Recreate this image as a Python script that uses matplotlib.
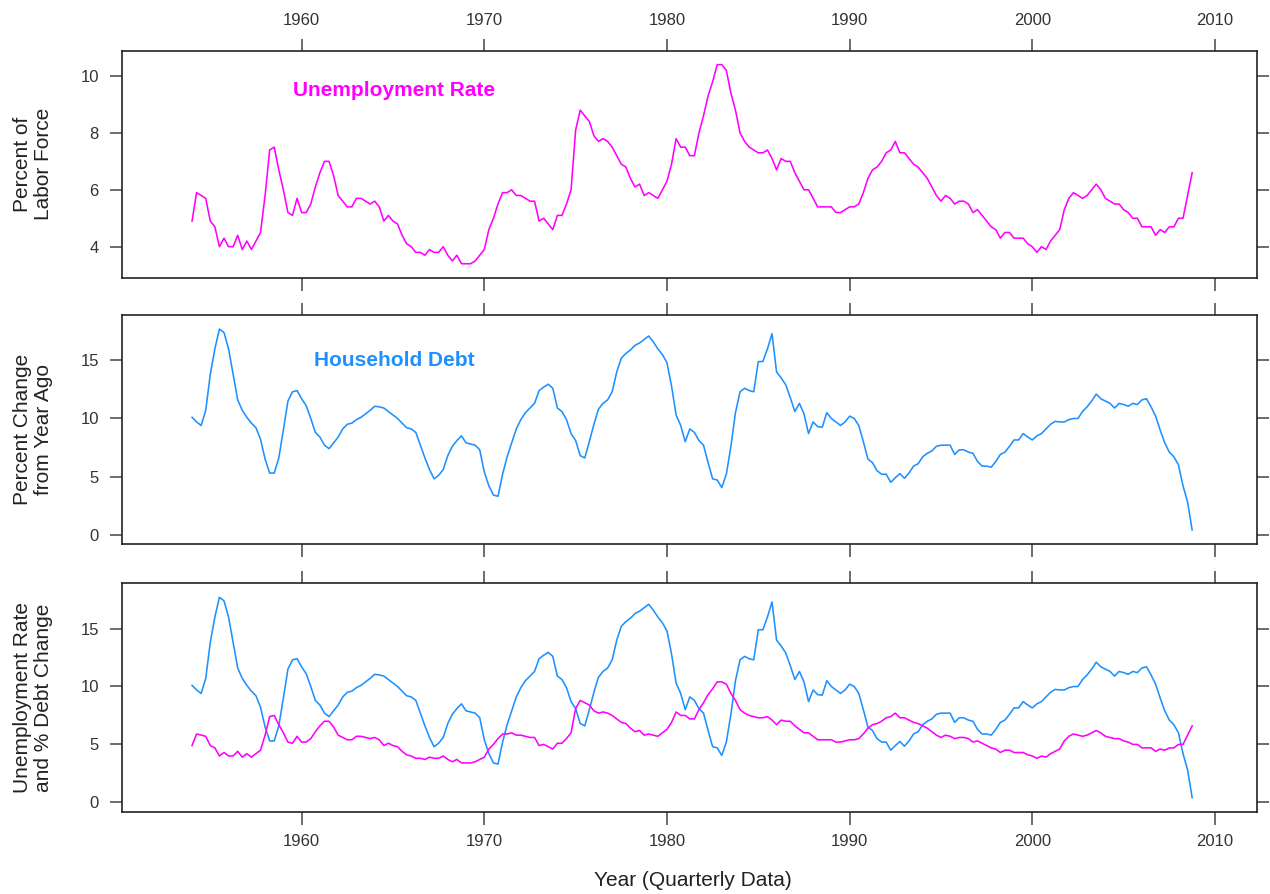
import numpy as np
import matplotlib
matplotlib.use('Agg')
from matplotlib import pyplot as plt

plt.rcParams['font.family'] = ['Liberation Sans', 'DejaVu Sans']

# quarterly data, 1954 Q1 .. 2008 Q4
start_year = 1954
n_quarters = 220

unemp = [
    4.9, 5.9, 5.8, 5.7,  4.9, 4.7, 4.0, 4.3,  4.0, 4.0, 4.4, 3.9,  4.2, 3.9, 4.2, 4.5,
    5.8, 7.4, 7.5, 6.7,  6.0, 5.2, 5.1, 5.7,  5.2, 5.2, 5.5, 6.1,  6.6, 7.0, 7.0, 6.5,
    5.8, 5.6, 5.4, 5.4,  5.7, 5.7, 5.6, 5.5,  5.6, 5.4, 4.9, 5.1,  4.9, 4.8, 4.4, 4.1,
    4.0, 3.8, 3.8, 3.7,  3.9, 3.8, 3.8, 4.0,  3.7, 3.5, 3.7, 3.4,  3.4, 3.4, 3.5, 3.7,
    3.9, 4.6, 5.0, 5.5,  5.9, 5.9, 6.0, 5.8,  5.8, 5.7, 5.6, 5.6,  4.9, 5.0, 4.8, 4.6,
    5.1, 5.1, 5.5, 6.0,  8.1, 8.8, 8.6, 8.4,  7.9, 7.7, 7.8, 7.7,  7.5, 7.2, 6.9, 6.8,
    6.4, 6.1, 6.2, 5.8,  5.9, 5.8, 5.7, 6.0,  6.3, 6.9, 7.8, 7.5,  7.5, 7.2, 7.2, 8.0,
    8.6, 9.3, 9.8, 10.4, 10.4, 10.2, 9.4, 8.8, 8.0, 7.7, 7.5, 7.4, 7.3, 7.3, 7.4, 7.1,
    6.7, 7.1, 7.0, 7.0,  6.6, 6.3, 6.0, 6.0,  5.7, 5.4, 5.4, 5.4,  5.4, 5.2, 5.2, 5.3,
    5.4, 5.4, 5.5, 5.9,  6.4, 6.7, 6.8, 7.0,  7.3, 7.4, 7.7, 7.3,  7.3, 7.1, 6.9, 6.8,
    6.6, 6.4, 6.1, 5.8,  5.6, 5.8, 5.7, 5.5,  5.6, 5.6, 5.5, 5.2,  5.3, 5.1, 4.9, 4.7,
    4.6, 4.3, 4.5, 4.5,  4.3, 4.3, 4.3, 4.1,  4.0, 3.8, 4.0, 3.9,  4.2, 4.4, 4.6, 5.3,
    5.7, 5.9, 5.8, 5.7,  5.8, 6.0, 6.2, 6.0,  5.7, 5.6, 5.5, 5.5,  5.3, 5.2, 5.0, 5.0,
    4.7, 4.7, 4.7, 4.4,  4.6, 4.5, 4.7, 4.7,  5.0, 5.0, 5.8, 6.6,
]

debt = [
    10.1, 9.7, 9.4, 10.7, 13.8, 16.0, 17.7, 17.4, 16.0, 13.8, 11.6, 10.7,
    10.1, 9.6, 9.2, 8.2, 6.5, 5.3, 5.3, 6.6, 9.0, 11.5, 12.3, 12.4,
    11.7, 11.1, 10.0, 8.8, 8.4, 7.7, 7.4, 7.9, 8.4, 9.1, 9.5, 9.6,
    9.9, 10.1, 10.4, 10.7, 11.05, 11.0, 10.9, 10.6, 10.3, 10.0, 9.6, 9.2,
    9.1, 8.8, 7.7, 6.6, 5.6, 4.8, 5.1, 5.6, 6.8, 7.6, 8.1, 8.5,
    7.9, 7.8, 7.7, 7.3, 5.4, 4.2, 3.4, 3.3, 5.2, 6.7, 7.9, 9.1,
    9.9, 10.5, 10.9, 11.3, 12.4, 12.7, 12.95, 12.6, 10.9, 10.6, 9.9, 8.7,
    8.1, 6.8, 6.6, 8.0, 9.5, 10.8, 11.3, 11.6, 12.3, 14.0, 15.2, 15.6,
    15.9, 16.3, 16.5, 16.8, 17.1, 16.6, 16.0, 15.5, 14.8, 12.8, 10.3, 9.4,
    8.0, 9.1, 8.8, 8.1, 7.7, 6.2, 4.8, 4.7, 4.05, 5.2, 7.6, 10.5,
    12.3, 12.6, 12.4, 12.3, 14.9, 14.9, 16.0, 17.3, 14.0, 13.5, 12.9, 11.8,
    10.6, 11.3, 10.4, 8.7, 9.7, 9.3, 9.25, 10.5, 10.0, 9.7, 9.4, 9.7,
    10.2, 10.0, 9.4, 8.0, 6.5, 6.2, 5.5, 5.2, 5.2, 4.5, 4.9, 5.25,
    4.85, 5.3, 5.9, 6.1, 6.7, 7.0, 7.2, 7.6, 7.7, 7.7, 7.7, 6.9,
    7.3, 7.3, 7.1, 7.0, 6.3, 5.9, 5.9, 5.8, 6.3, 6.9, 7.1, 7.6,
    8.15, 8.15, 8.7, 8.4, 8.15, 8.5, 8.7, 9.1, 9.5, 9.75, 9.7, 9.7,
    9.9, 10.0, 10.0, 10.6, 11.0, 11.5, 12.1, 11.7, 11.5, 11.3, 10.9, 11.3,
    11.2, 11.05, 11.3, 11.2, 11.6, 11.7, 11.0, 10.2, 9.0, 7.9, 7.1, 6.7,
    6.0, 4.2, 2.8, 0.4,
]

year_ticks = [1960, 1970, 1980, 1990, 2000, 2010]
unemp_ticks = [4, 6, 8, 10]
debt_ticks = [0, 5, 10, 15]

t = start_year + np.arange(n_quarters) / 4.0
unemp = np.array(unemp)
debt = np.array(debt)

magenta = '#FF00FF'
blue = '#1E90FF'
W_PX, H_PX = 1270, 894
LW = 1.15

fig = plt.figure(figsize=(W_PX / 100, H_PX / 100), dpi=100)
fig.patch.set_facecolor('white')

x0, x1 = 121.7, 1257.0


def panel(y0, y1):
    return fig.add_axes([x0 / W_PX, 1 - y1 / H_PX, (x1 - x0) / W_PX, (y1 - y0) / H_PX])


def padded(values):
    lo, hi = min(np.min(v) for v in values), max(np.max(v) for v in values)
    r = hi - lo
    return lo - 0.07 * r, hi + 0.07 * r


def style(ax, yticks, top_labels=False, bottom_labels=False):
    ax.set_xlim(1950.15, 2012.3)
    ax.set_xticks(year_ticks)
    ax.set_yticks(yticks)
    for s in ax.spines.values():
        s.set_color('#222222')
        s.set_linewidth(1.2)
    ax.tick_params(axis='x', direction='out', length=9, width=1.1, color='#444444',
                   top=True, bottom=True, labeltop=top_labels, labelbottom=bottom_labels,
                   labelsize=12, labelcolor='#333333', pad=7)
    ax.tick_params(axis='y', direction='out', length=8.5, width=1.1, color='#444444',
                   left=True, right=True, labelleft=True, labelright=False,
                   labelsize=12, labelcolor='#333333', pad=8)


# top panel: unemployment
ax1 = panel(50.7, 277.7)
ax1.plot(t, unemp, color=magenta, lw=LW)
ax1.set_ylim(*padded([unemp]))
style(ax1, unemp_ticks, top_labels=True)
ax1.text(1965.05, 9.5, 'Unemployment Rate', color=magenta, fontsize=15,
         fontweight='bold', ha='center', va='center')

# middle panel: household debt
ax2 = panel(315.0, 544.0)
ax2.plot(t, debt, color=blue, lw=LW)
ax2.set_ylim(*padded([debt]))
style(ax2, debt_ticks)
ax2.text(1965.05, 15.0, 'Household Debt', color=blue, fontsize=15,
         fontweight='bold', ha='center', va='center')

# bottom panel: both
ax3 = panel(583.3, 811.7)
ax3.plot(t, debt, color=blue, lw=LW)
ax3.plot(t, unemp, color=magenta, lw=LW)
ax3.set_ylim(*padded([debt, unemp]))
style(ax3, debt_ticks, bottom_labels=True)

ylabels = [('Percent of\nLabor Force', 50.7, 277.7),
           ('Percent Change\nfrom Year Ago', 315.0, 544.0),
           ('Unemployment Rate\nand % Debt Change', 583.3, 811.7)]
for txt, a, b in ylabels:
    fig.text(33 / W_PX, 1 - (a + b) / 2 / H_PX, txt, rotation=90, ha='center',
             va='center', fontsize=15, linespacing=1.1, color='#222222')

fig.text(693 / W_PX, 1 - 881 / H_PX, 'Year (Quarterly Data)', ha='center',
         va='center', fontsize=15, color='#222222')

fig.savefig('out.png', dpi=100)
